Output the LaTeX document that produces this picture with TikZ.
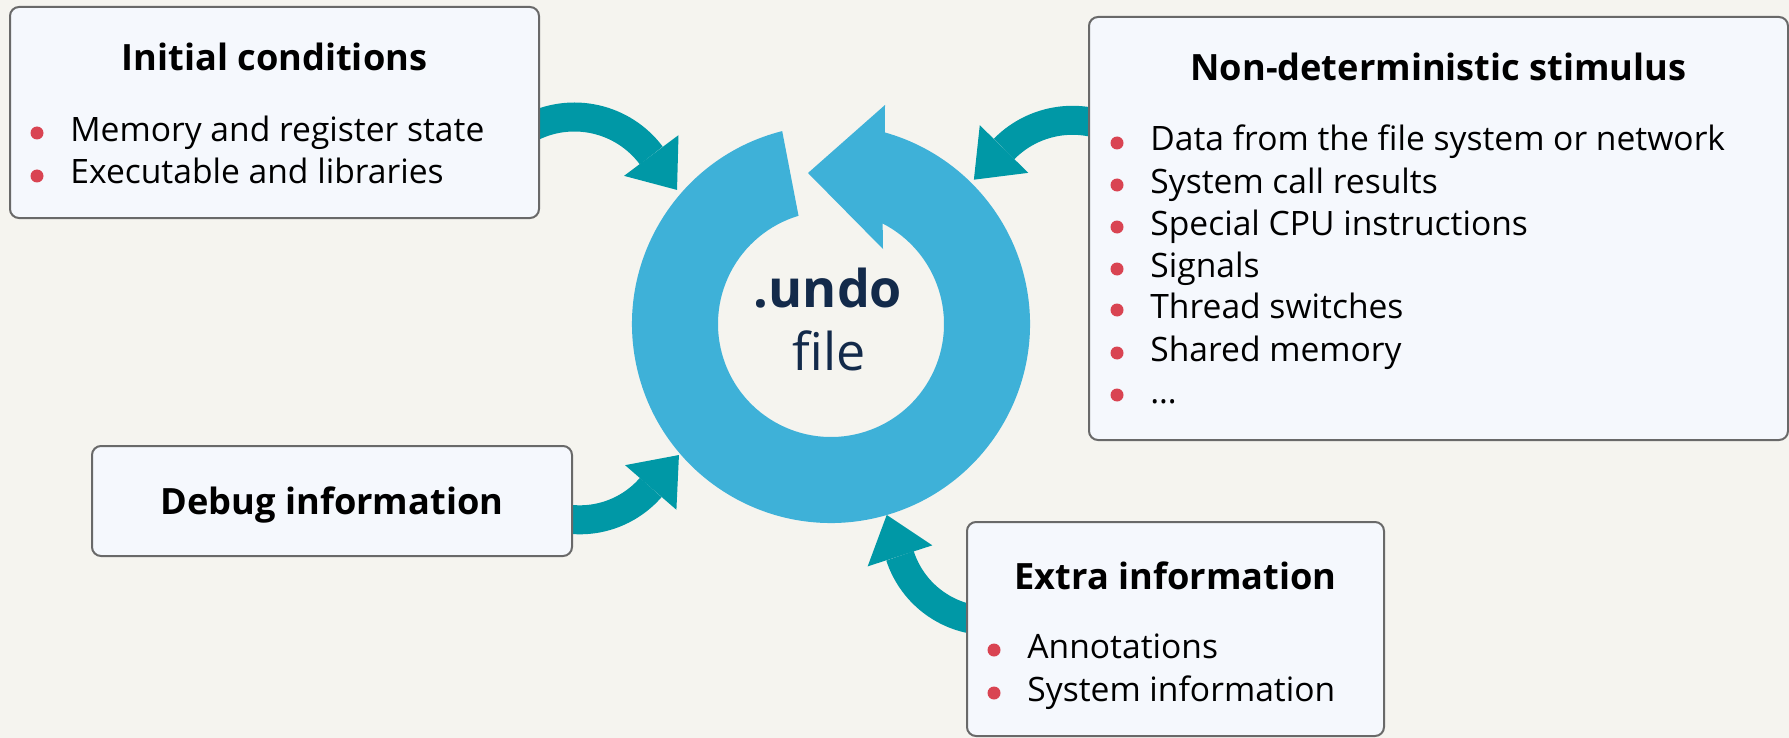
\documentclass[tikz,border=0pt]{standalone}
\usepackage{fontspec}
\setmainfont{Open Sans}
\usetikzlibrary{calc}

\definecolor{bg}{RGB}{245,244,239}
\definecolor{boxfill}{RGB}{245,248,253}
\definecolor{boxline}{RGB}{105,105,105}
\definecolor{ringcol}{RGB}{62,177,216}
\definecolor{flowcol}{RGB}{0,152,166}
\definecolor{dotcol}{RGB}{217,68,82}
\definecolor{navy}{RGB}{19,42,74}

\tikzset{
  box/.style={draw=boxline, fill=boxfill, line width=1pt, rounded corners=4.5pt, inner sep=0pt},
  heading/.style={anchor=base, inner sep=0pt, font=\fontsize{18.1pt}{22pt}\selectfont\bfseries},
  item/.style={anchor=base west, inner sep=0pt, font=\fontsize{16.8pt}{20pt}\selectfont},
  flow/.style={draw=flowcol, line width=14.5pt},
}

% bullet line: name, dot x, baseline y, text
\newcommand\bulletline[4]{%
  \fill[dotcol] (#2,#3-8) circle[radius=6.5];
  \node[item] (#1) at (#2+33,#3) {#4};
}

% bent feed arrow: centre, radius, start angle, end angle, head turn (+90 or -90)
\newcommand\bentarrow[5]{%
  \draw[flow] ($(#1)+(#3:#2)$) arc[start angle=#3, end angle=#4, radius=#2];
  \fill[flowcol] ($(#1)+(#4:#2+34)$) -- ($(#1)+(#4:#2)+(#4#5:43)$)
     -- ($(#1)+(#4:#2-34)$) -- cycle;
}

\begin{document}
\begin{tikzpicture}[x=0.5pt, y=-0.5pt]
\useasboundingbox (0,0) rectangle (1789,738);
\fill[bg] (0,0) rectangle (1789,738);

% central circular arrow
\coordinate (ring) at (831,324);
\fill[ringcol] ($(ring)+(-104.2:199)$)
  arc[start angle=-104.2, end angle=-434.3, radius=199]
  -- ($(ring)+(54,-219)$) -- ($(ring)+(-23,-151)$) -- ($(ring)+(52,-75)$)
  -- ($(ring)+(-62.8:113)$)
  arc[start angle=-422.8, end angle=-106.7, radius=113] -- cycle;

\node[anchor=base, inner sep=0pt, text=navy, font=\fontsize{26pt}{30pt}\selectfont\bfseries] (undo) at (828,307) {.undo};
\node[anchor=base, inner sep=0pt, text=navy, font=\fontsize{26pt}{30pt}\selectfont] (file) at (829,370) {file};

% feed arrows into the ring
\coordinate (ca) at (574.4,213);
\coordinate (cb) at (1072.5,216.3);
\coordinate (cc) at (579.8,425.8);
\coordinate (cd) at (989.4,526.8);
\bentarrow{ca}{96}{-118}{-36.8}{+90}
\bentarrow{cb}{96}{-70}{-135.5}{-90}
\bentarrow{cc}{94}{100}{41}{-90}
\bentarrow{cd}{94}{95}{162}{+90}

% boxes
\node[box, minimum width=264.5pt, minimum height=105.5pt] (ic) at (274.5,112.5) {};
\node[box, minimum width=349.5pt, minimum height=211.5pt] (nd) at (1438.5,228.5) {};
\node[box, minimum width=240pt, minimum height=55pt] (dbg) at (332,501) {};
\node[box, minimum width=208.5pt, minimum height=107pt] (ex) at (1175.5,629) {};

\node[heading] (ict) at (274.5,71) {Initial conditions};
\bulletline{ic1}{37}{141}{Memory and register state}
\bulletline{ic2}{37}{184}{Executable and libraries}

\node[heading] (ndt) at (1438.5,81) {Non-deterministic stimulus};
\bulletline{nd1}{1117}{151}{Data from the file system or network}
\bulletline{nd2}{1117}{193}{System call results}
\bulletline{nd3}{1117}{235}{Special CPU instructions}
\bulletline{nd4}{1117}{277}{Signals}
\bulletline{nd5}{1117}{318}{Thread switches}
\bulletline{nd6}{1117}{361}{Shared memory}
\bulletline{nd7}{1117}{403}{\dots}

\node[heading] (dbgt) at (332,514) {Debug information};

\node[heading] (ext) at (1175.5,589) {Extra information};
\bulletline{ex1}{994}{658}{Annotations}
\bulletline{ex2}{994}{701}{System information}
\end{tikzpicture}
\end{document}
